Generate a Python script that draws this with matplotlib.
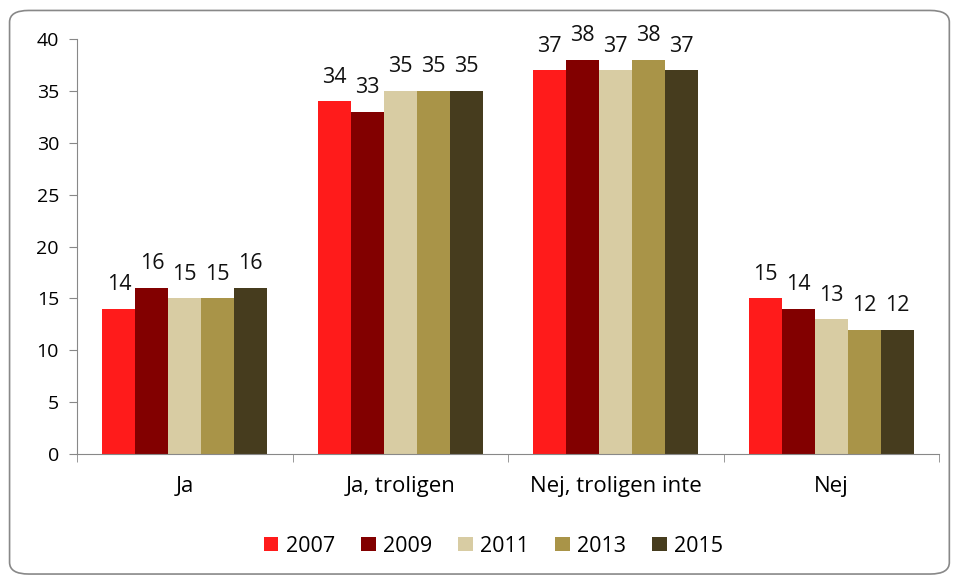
import matplotlib
matplotlib.use("Agg")
import matplotlib.pyplot as plt
from matplotlib.patches import FancyBboxPatch
import numpy as np

categories = ["Ja", "Ja, troligen", "Nej, troligen inte", "Nej"]
years = ["2007", "2009", "2011", "2013", "2015"]
values = {
    "2007": [14, 34, 37, 15],
    "2009": [16, 33, 38, 14],
    "2011": [15, 35, 37, 13],
    "2013": [15, 35, 38, 12],
    "2015": [16, 35, 37, 12],
}
colors = ["#FF1B1B", "#820000", "#D8CCA3", "#A99448", "#463C1E"]

plt.rcParams['font.family'] = ['Open Sans', 'DejaVu Sans']

fig = plt.figure(figsize=(9.57, 5.81), dpi=100)
border = FancyBboxPatch((0.010, 0.012), 0.982, 0.970, boxstyle="round,pad=0,rounding_size=0.02",
                        transform=fig.transFigure, facecolor="white", edgecolor="#888888",
                        linewidth=1.2, zorder=-10)
fig.patches.append(border)

ax = fig.add_axes([0.0805, 0.2186, 0.9007, 0.7138])
ax.set_facecolor("none")
x = np.arange(len(categories))
bw = 0.153
for i, (yr, c) in enumerate(zip(years, colors)):
    pos = x + (i - 2) * bw
    ax.bar(pos, values[yr], width=bw, color=c, edgecolor="none", label=yr)
    for p, v in zip(pos, values[yr]):
        ax.text(p, v + 1.8, str(v), ha="center", va="baseline", fontsize=15.5, color="#111111")

ax.set_xlim(-0.5, 3.5)
ax.set_ylim(0, 40)
ax.set_yticks(range(0, 41, 5))
ax.set_xticks(x)
ax.set_xticklabels(categories)
ax.set_xticks(np.arange(-0.5, 3.6, 1), minor=True)
ax.tick_params(axis="x", which="major", length=0, pad=16, labelsize=16)
ax.tick_params(axis="x", which="minor", length=6, color="#888888", direction="out")
ax.tick_params(axis="y", length=6, color="#888888", direction="out", labelsize=14, pad=7)
for s in ["top", "right"]:
    ax.spines[s].set_visible(False)
for s in ["left", "bottom"]:
    ax.spines[s].set_color("#888888")

leg = fig.legend(loc="center", bbox_to_anchor=(0.5157, 0.0602), ncol=5, frameon=False, fontsize=15.5,
                 handlelength=0.68, handleheight=0.68, handletextpad=0.35, columnspacing=1.2)

fig.savefig("out.png", dpi=100)
